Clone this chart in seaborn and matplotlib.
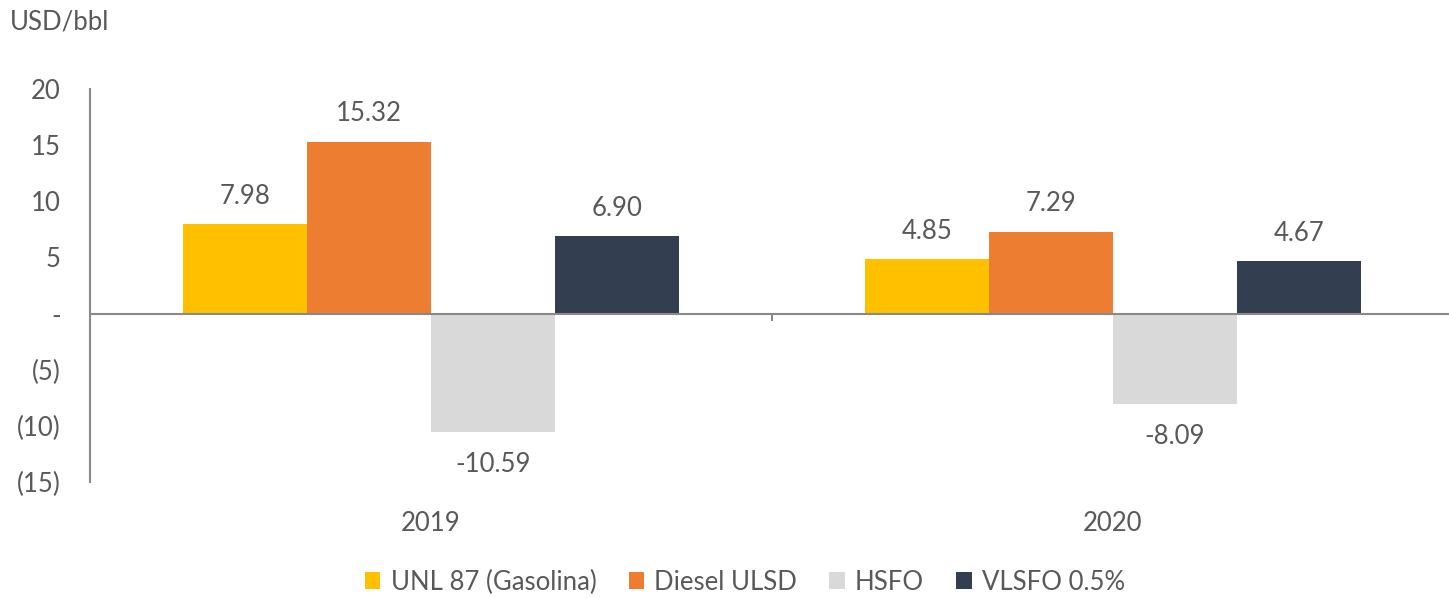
import pandas as pd
import numpy as np
import seaborn as sns
import matplotlib.pyplot as plt
from matplotlib.ticker import FuncFormatter, FixedLocator
from matplotlib.patches import Patch

# data
years = ["2019", "2020"]
products = ["UNL 87 (Gasolina)", "Diesel ULSD", "HSFO", "VLSFO 0.5%"]
unl87 = [7.98, 4.85]
diesel = [15.32, 7.29]
hsfo = [-10.59, -8.09]
vlsfo = [6.90, 4.67]
colors = ["#FFC000", "#ED7D31", "#D9D9D9", "#333F50"]

TEXT = "#595959"
AXIS = "#898989"

rows = []
for name, vals in zip(products, [unl87, diesel, hsfo, vlsfo]):
    for yr, v in zip(years, vals):
        rows.append({"year": yr, "product": name, "value": v})
df = pd.DataFrame(rows)

sns.set_theme(style="white")
plt.rcParams["font.family"] = ["Lato", "DejaVu Sans"]

fig = plt.figure(figsize=(14.49, 5.98), dpi=100)
ax = fig.add_axes([90 / 1449, 1 - 482 / 598, (1454 - 90) / 1449, 393 / 598])

sns.barplot(data=df, x="year", y="value", hue="product", hue_order=products,
            palette=colors, width=0.726, gap=0, saturation=1, ax=ax,
            legend=False, errorbar=None, linewidth=0)

ax.set_ylim(-15, 20)
ax.set_xlim(-0.5, 1.5)
ax.yaxis.set_major_locator(FixedLocator([-15, -10, -5, 0, 5, 10, 15, 20]))


def fmt(v, pos):
    if v == 0:
        return "-"
    if v < 0:
        return f"({abs(v):.0f})"
    return f"{v:.0f}"


ax.yaxis.set_major_formatter(FuncFormatter(fmt))
ax.tick_params(axis="y", length=0, pad=21, labelsize=18.5, labelcolor=TEXT)
ax.tick_params(axis="x", length=0, pad=21, labelsize=18.5, labelcolor=TEXT)
ax.set_xlabel("")
ax.set_ylabel("")

for s in ["top", "right", "bottom"]:
    ax.spines[s].set_visible(False)
ax.spines["left"].set_color(AXIS)
ax.spines["left"].set_linewidth(1.5)
ax.axhline(0, color=AXIS, lw=1.5, zorder=3)
ax.vlines(0.5, -0.65, 0, color=AXIS, lw=1.5, zorder=3)

# value labels
for cont in ax.containers:
    for bar in cont:
        h = bar.get_height()
        xc = bar.get_x() + bar.get_width() / 2
        if h >= 0:
            ax.annotate(f"{h:.2f}", (xc, h), xytext=(0, 20), textcoords="offset points",
                        ha="center", va="center", fontsize=18.5, color=TEXT)
        else:
            ax.annotate(f"{h:.2f}", (xc, h), xytext=(0, -23), textcoords="offset points",
                        ha="center", va="center", fontsize=18.5, color=TEXT)

fig.text(10 / 1449, 1 - 22 / 598, "USD/bbl", fontsize=18.5, color=TEXT, va="center", ha="left")

handles = [Patch(facecolor=c, edgecolor="none") for c in colors]
fig.legend(handles, products, loc="center", bbox_to_anchor=(745 / 1449, 1 - 582 / 598),
           ncol=4, frameon=False, fontsize=18.5, labelcolor=TEXT,
           handlelength=0.6, handleheight=0.6, handletextpad=0.4, columnspacing=1.25)

fig.savefig("out.png", dpi=100)
